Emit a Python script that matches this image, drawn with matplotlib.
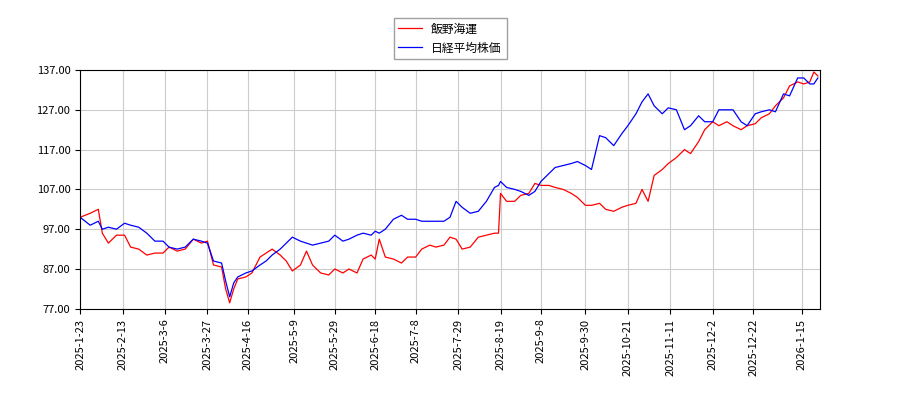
import datetime
import matplotlib
matplotlib.use('Agg')
import matplotlib.pyplot as plt

plt.rcParams['font.family'] = ['Noto Sans CJK JP', 'DejaVu Sans']

DATES = ['2025-01-23', '2025-01-28', '2025-02-01', '2025-02-03', '2025-02-06', '2025-02-10',
         '2025-02-14', '2025-02-17', '2025-02-21', '2025-02-25', '2025-03-01', '2025-03-05',
         '2025-03-08', '2025-03-12', '2025-03-16', '2025-03-20', '2025-03-24', '2025-03-27',
         '2025-03-30', '2025-04-03', '2025-04-05', '2025-04-07', '2025-04-09', '2025-04-11',
         '2025-04-15', '2025-04-18', '2025-04-22', '2025-04-25', '2025-04-28', '2025-05-02',
         '2025-05-05', '2025-05-08', '2025-05-12', '2025-05-15', '2025-05-18', '2025-05-22',
         '2025-05-26', '2025-05-29', '2025-06-02', '2025-06-05', '2025-06-09', '2025-06-12',
         '2025-06-16', '2025-06-18', '2025-06-20', '2025-06-23', '2025-06-27', '2025-07-01',
         '2025-07-04', '2025-07-08', '2025-07-11', '2025-07-15', '2025-07-18', '2025-07-22',
         '2025-07-25', '2025-07-28', '2025-07-31', '2025-08-04', '2025-08-08', '2025-08-12',
         '2025-08-16', '2025-08-18', '2025-08-19', '2025-08-22', '2025-08-26', '2025-08-29',
         '2025-09-02', '2025-09-05', '2025-09-08', '2025-09-12', '2025-09-15', '2025-09-19',
         '2025-09-23', '2025-09-26', '2025-09-30', '2025-10-03', '2025-10-07', '2025-10-10',
         '2025-10-14', '2025-10-18', '2025-10-21', '2025-10-25', '2025-10-28', '2025-10-31',
         '2025-11-03', '2025-11-07', '2025-11-10', '2025-11-14', '2025-11-18', '2025-11-21',
         '2025-11-25', '2025-11-28', '2025-12-02', '2025-12-05', '2025-12-09', '2025-12-12',
         '2025-12-16', '2025-12-19', '2025-12-23', '2025-12-26', '2025-12-30', '2026-01-02',
         '2026-01-06', '2026-01-09', '2026-01-13', '2026-01-16', '2026-01-19', '2026-01-21',
         '2026-01-23']

IINO = [100, 101, 102, 96, 93.5, 95.5, 95.5, 92.5, 92, 90.5, 91, 91, 92.5, 91.5, 92, 94.5,
        93.5, 94, 88, 87.5, 82, 78.5, 82, 84.5, 85, 86, 90, 91, 92, 90.5, 89, 86.5, 88, 91.5,
        88, 86, 85.5, 87, 86, 87, 86, 89.5, 90.5, 89.5, 94.5, 90, 89.5, 88.5, 90, 90, 92, 93,
        92.5, 93, 95, 94.5, 92, 92.5, 95, 95.5, 96, 96, 106, 104, 104, 105.5, 106, 108.5, 108,
        108, 107.5, 107, 106, 105, 103, 103, 103.5, 102, 101.5, 102.5, 103, 103.5, 107, 104,
        110.5, 112, 113.5, 115, 117, 116, 119, 122, 124, 123, 124, 123, 122, 123, 123.5, 125,
        126, 128, 130, 133, 134, 133.5, 134, 136.5, 135.5]

NIKKEI = [100, 98, 99, 97, 97.5, 97, 98.5, 98, 97.5, 96, 94, 94, 92.5, 92, 92.5, 94.5, 94,
          93.5, 89, 88.5, 84, 80, 83.5, 85, 86, 86.5, 88, 89, 90.5, 92, 93.5, 95, 94, 93.5, 93,
          93.5, 94, 95.5, 94, 94.5, 95.5, 96, 95.5, 96.5, 96, 97, 99.5, 100.5, 99.5, 99.5, 99,
          99, 99, 99, 100, 104, 102.5, 101, 101.5, 104, 107.5, 108, 109, 107.5, 107, 106.5,
          105.5, 106.5, 109, 111, 112.5, 113, 113.5, 114, 113, 112, 120.5, 120, 118, 121, 123,
          126, 129, 131, 128, 126, 127.5, 127, 122, 123, 125.5, 124, 124, 127, 127, 127, 124,
          123, 126, 126.5, 127, 126.5, 131, 130.5, 135, 135, 133.5, 133.5, 135]

TICK_DATES = ['2025-1-23', '2025-2-13', '2025-3-6', '2025-3-27', '2025-4-16', '2025-5-9',
              '2025-5-29', '2025-6-18', '2025-7-8', '2025-7-29', '2025-8-19', '2025-9-8',
              '2025-9-30', '2025-10-21', '2025-11-11', '2025-12-2', '2025-12-22', '2026-1-15']

x = [datetime.datetime.strptime(d, '%Y-%m-%d') for d in DATES]
ticks = [datetime.datetime.strptime(d, '%Y-%m-%d') for d in TICK_DATES]

fig = plt.figure(figsize=(9, 4), dpi=100)
ax = fig.add_axes([0.089, 0.228, 0.822, 0.597])
ax.plot(x, IINO, color='red', linewidth=0.9, label='飯野海運')
ax.plot(x, NIKKEI, color='blue', linewidth=0.9, label='日経平均株価')

ax.set_xlim(ticks[0], datetime.datetime(2026, 1, 24))
ax.set_ylim(77, 137)
ax.set_yticks([77 + 10 * i for i in range(7)])
ax.yaxis.set_major_formatter(matplotlib.ticker.FormatStrFormatter('%.2f'))
ax.set_xticks(ticks)
ax.set_xticklabels(TICK_DATES, rotation=90)
ax.tick_params(labelsize=8)
ax.grid(color='#cccccc', linewidth=0.8)

fig.legend(loc='upper center', bbox_to_anchor=(0.5, 0.97), fontsize=8.5,
           fancybox=False, edgecolor='#888888')

fig.savefig('out.png')
